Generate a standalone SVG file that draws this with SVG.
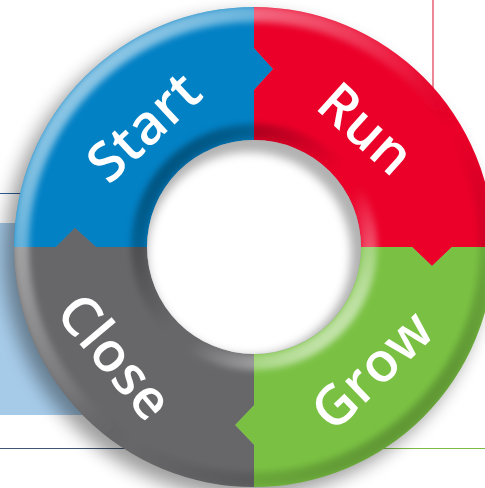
<svg xmlns="http://www.w3.org/2000/svg" width="485" height="488" viewBox="0 0 485 488">
  <style>
    .lbl { font-family: "Open Sans", "Liberation Sans", sans-serif; font-weight: 600; font-size: 55px; letter-spacing: 0.5px; fill: #ffffff; text-anchor: middle; }
  </style>
  <defs>
    <filter id="blur3" x="-10%" y="-10%" width="120%" height="120%"><feGaussianBlur stdDeviation="3"/></filter>
    <filter id="shadowBlur" x="-20%" y="-20%" width="140%" height="140%"><feGaussianBlur stdDeviation="9"/></filter>
    <filter id="holeBlur" x="-20%" y="-20%" width="140%" height="140%"><feGaussianBlur stdDeviation="5"/></filter>
    <linearGradient id="outerRim" gradientUnits="userSpaceOnUse" x1="70" y1="60" x2="440" y2="440">
      <stop offset="0" stop-color="#ffffff" stop-opacity="0.6"/>
      <stop offset="0.45" stop-color="#ffffff" stop-opacity="0.1"/>
      <stop offset="0.6" stop-color="#000000" stop-opacity="0"/>
      <stop offset="1" stop-color="#000000" stop-opacity="0.25"/>
    </linearGradient>
    <linearGradient id="innerRim" gradientUnits="userSpaceOnUse" x1="170" y1="160" x2="340" y2="340">
      <stop offset="0" stop-color="#000000" stop-opacity="0.35"/>
      <stop offset="0.5" stop-color="#000000" stop-opacity="0"/>
      <stop offset="0.6" stop-color="#ffffff" stop-opacity="0"/>
      <stop offset="1" stop-color="#ffffff" stop-opacity="0.6"/>
    </linearGradient>
    <clipPath id="ringClip">
      <path clip-rule="evenodd" d="M 14,247 A 240 240 0 1 1 494,247 A 240 240 0 1 1 14,247 Z M 147,247 A 107 107 0 1 0 361,247 A 107 107 0 1 0 147,247 Z"/>
    </clipPath>
    <clipPath id="holeClip"><circle cx="254" cy="247" r="107"/></clipPath>
  </defs>

  <!-- background -->
  <rect width="485" height="488" fill="#ffffff"/>
  <g id="background">
    <rect x="0" y="223" width="200" height="192" fill="#a6cbe9"/>
    <line x1="0" y1="193.5" x2="60" y2="193.5" stroke="#2d5d96" stroke-width="1.2"/>
    <line x1="0" y1="448.5" x2="254" y2="448.5" stroke="#3f5573" stroke-width="1.2"/>
    <line x1="254" y1="448.5" x2="485" y2="448.5" stroke="#7cbb46" stroke-width="1.2"/>
    <line x1="433" y1="0" x2="433" y2="120" stroke="#e4475f" stroke-width="1.3"/>
  </g>

  <!-- ring drop shadow -->
  <circle cx="245" cy="256" r="241" fill="#000000" opacity="0.38" filter="url(#shadowBlur)"/>

  <g id="node-start">
    <path fill="#0281c5" d="M 14,247 A 240 240 0 0 1 254,7 L 254,48 L 273,69 L 254,90 L 254,140 A 107 107 0 0 0 147,247 L 96,247 L 75,228 L 56,247 Z"/>
  </g>
  <g id="node-run">
    <path fill="#eb0029" d="M 254,7 A 240 240 0 0 1 494,247 L 452,247 L 432,266 L 412,247 L 361,247 A 107 107 0 0 0 254,140 L 254,90 L 273,69 L 254,48 Z"/>
  </g>
  <g id="node-grow">
    <path fill="#7ac143" d="M 494,247 A 240 240 0 0 1 254,487 L 254,445 L 235,425 L 254,405 L 254,354 A 107 107 0 0 0 361,247 L 412,247 L 432,266 L 452,247 Z"/>
  </g>
  <g id="node-close">
    <path fill="#676668" d="M 254,487 A 240 240 0 0 1 14,247 L 56,247 L 75,228 L 96,247 L 147,247 A 107 107 0 0 0 254,354 L 254,405 L 235,425 L 254,445 Z"/>
  </g>

  <!-- bevel shading -->
  <g id="shading" clip-path="url(#ringClip)">
    <circle cx="254" cy="247" r="233" fill="none" stroke="url(#outerRim)" stroke-width="16" filter="url(#blur3)"/>
    <circle cx="254" cy="247" r="115" fill="none" stroke="url(#innerRim)" stroke-width="16" filter="url(#blur3)"/>
  </g>

  <!-- hole -->
  <g id="hole" clip-path="url(#holeClip)">
    <rect x="140" y="130" width="230" height="230" fill="#b2b2b2"/>
    <circle cx="249" cy="254" r="102" fill="#ffffff" filter="url(#holeBlur)"/>
  </g>

  <g id="labels">
    <text class="lbl" transform="translate(144,127) rotate(-43)" x="0" y="19">Start</text>
    <text class="lbl" transform="translate(366,129) rotate(42)" x="0" y="19">Run</text>
    <text class="lbl" transform="translate(372,370) rotate(-44)" x="0" y="19">Grow</text>
    <text class="lbl" transform="translate(115,357) rotate(50)" x="0" y="19">Close</text>
  </g>
</svg>
